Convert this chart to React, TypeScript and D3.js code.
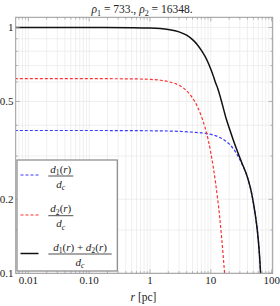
import * as d3 from "d3";

// d1(r)/dc  (blue, dashed)
const R1 = [0.006, 0.1, 1, 3, 5, 8, 11, 14, 17, 20, 23, 26, 30, 34, 38, 42, 46, 50, 54, 58, 62, 66, 70];
const D1 = [0.381, 0.381, 0.380, 0.378, 0.375, 0.371, 0.365, 0.357, 0.347, 0.336, 0.323, 0.309, 0.290, 0.272, 0.255, 0.236, 0.216, 0.194, 0.172, 0.150, 0.126, 0.098, 0.068];

// d2(r)/dc  (red, dashed)
const R2 = [0.006, 0.1, 0.5, 1, 1.5, 2, 3, 4, 5, 6, 7, 8, 9, 10, 11, 12, 13, 14, 15, 16, 17, 18];
const D2 = [0.619, 0.619, 0.618, 0.615, 0.610, 0.602, 0.582, 0.553, 0.517, 0.477, 0.435, 0.393, 0.351, 0.309, 0.269, 0.232, 0.199, 0.169, 0.141, 0.117, 0.097, 0.080];

// (d1+d2)/dc  (black)
const RT = [0.006, 0.1, 0.5, 1, 2, 3, 4, 5, 6, 7, 8, 9, 10, 11, 12, 13, 14, 15, 16, 18, 20, 23, 26, 30, 34, 38, 42, 46, 50, 54, 58, 62, 66, 70];
const DT = [1.0, 1.0, 0.998, 0.995, 0.981, 0.96, 0.93, 0.892, 0.851, 0.807, 0.764, 0.72, 0.676, 0.634, 0.594, 0.565, 0.532, 0.5, 0.471, 0.423, 0.391, 0.353, 0.324, 0.295, 0.273, 0.255, 0.236, 0.216, 0.194, 0.172, 0.15, 0.126, 0.098, 0.068];

const xTicks = [0.01, 0.1, 1, 10, 100];
const xTickLabels = ["0.01", "0.10", "1", "10", "100"];
const yTicks = [0.1, 0.2, 0.5, 1];
const yTickLabels = ["0.1", "0.2", "0.5", "1"];
const yMinor = [0.15, 0.3, 0.4, 0.6, 0.7, 0.8, 0.9];

const W = 280;
const H = 306;
const left = 15.7, right = 272.7, top = 17.3, bottom = 273.3;
const FONT = "'Liberation Serif', 'DejaVu Serif', serif";

const x = d3.scaleLog().domain([0.0062, 104]).range([left, right]);
const y = d3.scaleLog().domain([0.1, 1.1]).range([bottom, top]);

const xGrid: number[] = [];
for (let e = -3; e <= 2; e++) for (let m = 1; m <= 9; m++) {
  const v = m * Math.pow(10, e);
  if (v >= 0.0062 && v <= 104) xGrid.push(v);
}

const line = d3.line<[number, number]>()
  .x(d => x(d[0]))
  .y(d => y(d[1]))
  .curve(d3.curveMonotoneX);

const zip = (a: number[], b: number[]) => a.map((v, i) => [v, b[i]] as [number, number]);

const Sub = ({ t }: { t: string }) => (
  <tspan fontSize="0.7em" dy="3" fontStyle="normal">{t}</tspan>
);

const Frac = ({ cx, barY, w, num }: { cx: number; barY: number; w: number; num: "d1" | "d2" | "sum" }) => {
  const dTerm = (i: string) => (
    <>
      <tspan fontStyle="italic">d</tspan>
      <tspan fontSize="0.7em" dy="2.5">{i}</tspan>
      <tspan dy="-2.5">(</tspan>
      <tspan fontStyle="italic">r</tspan>
      <tspan>)</tspan>
    </>
  );
  return (
    <g fontFamily={FONT} fontSize={11} fill="#222">
      <text x={cx} y={barY - 3.5} textAnchor="middle">
        {num === "d1" && dTerm("1")}
        {num === "d2" && dTerm("2")}
        {num === "sum" && (<>{dTerm("1")}<tspan> + </tspan>{dTerm("2")}</>)}
      </text>
      <line x1={cx - w / 2} x2={cx + w / 2} y1={barY} y2={barY} stroke="#222" strokeWidth={0.8} />
      <text x={cx} y={barY + 11.5} textAnchor="middle">
        <tspan fontStyle="italic">d</tspan>
        <tspan fontSize="0.7em" dy="2.5" fontStyle="italic">c</tspan>
      </text>
    </g>
  );
};

export default function App() {
  return (
    <svg width={W} height={H} style={{ position: "absolute", left: 0, top: 0, background: "#fff" }}>
      <defs>
        <clipPath id="plot">
          <rect x={left} y={top} width={right - left} height={bottom - top} />
        </clipPath>
      </defs>

      {/* title */}
      <text x={142} y={13} textAnchor="middle" fontFamily={FONT} fontSize={11.5} fill="#222">
        <tspan fontStyle="italic">ρ</tspan><Sub t="1" /><tspan dy="-3"> = 733., </tspan>
        <tspan fontStyle="italic">ρ</tspan><Sub t="2" /><tspan dy="-3"> = 16348.</tspan>
      </text>

      {/* grid */}
      <g stroke="#ebebeb" strokeWidth={0.8}>
        {xGrid.map(v => <line key={"gx" + v} x1={x(v)} x2={x(v)} y1={top} y2={bottom} />)}
        {[...yTicks, ...yMinor].map(v => <line key={"gy" + v} x1={left} x2={right} y1={y(v)} y2={y(v)} />)}
      </g>

      {/* curves */}
      <g clipPath="url(#plot)" fill="none">
        <path d={line(zip(R1, D1)) || ""} stroke="#3a3aff" strokeWidth={1.2} strokeDasharray="3,2" />
        <path d={line(zip(R2, D2)) || ""} stroke="#ff3030" strokeWidth={1.2} strokeDasharray="3,2" />
        <path d={line(zip(RT, DT)) || ""} stroke="#111" strokeWidth={1.5} />
      </g>

      {/* frame ticks */}
      <g stroke="#999" strokeWidth={0.7}>
        {xGrid.map(v => {
          const len = xTicks.includes(v) ? 4 : 2.2;
          return (
            <g key={"tx" + v}>
              <line x1={x(v)} x2={x(v)} y1={bottom} y2={bottom - len} />
              <line x1={x(v)} x2={x(v)} y1={top} y2={top + len} />
            </g>
          );
        })}
        {[...yTicks, ...yMinor].map(v => {
          const len = yTicks.includes(v) ? 4 : 2.2;
          return (
            <g key={"ty" + v}>
              <line x1={left} x2={left + len} y1={y(v)} y2={y(v)} />
              <line x1={right} x2={right - len} y1={y(v)} y2={y(v)} />
            </g>
          );
        })}
      </g>
      <rect x={left} y={top} width={right - left} height={bottom - top} fill="none" stroke="#999" strokeWidth={1} />

      {/* tick labels */}
      <g fontFamily={FONT} fontSize={11} fill="#222">
        {xTicks.map((v, i) => (
          <text key={"lx" + v} x={x(v)} y={284} textAnchor="middle">{xTickLabels[i]}</text>
        ))}
        {yTicks.map((v, i) => (
          <text key={"ly" + v} x={13.5} y={y(v) + 3.8} textAnchor="end">{yTickLabels[i]}</text>
        ))}
      </g>

      {/* axis label */}
      <text x={143.5} y={301} textAnchor="middle" fontFamily={FONT} fontSize={11.5} fill="#222">
        <tspan fontStyle="italic">r</tspan><tspan> [pc]</tspan>
      </text>

      {/* legend */}
      <rect x={17} y={160} width={100.3} height={111} fill="#fff" stroke="#888" strokeWidth={1.2} />
      <line x1={20.5} x2={38.5} y1={175} y2={175} stroke="#3a3aff" strokeWidth={1.2} strokeDasharray="3,2" />
      <line x1={20.5} x2={38.5} y1={215} y2={215} stroke="#ff3030" strokeWidth={1.2} strokeDasharray="3,2" />
      <line x1={20.5} x2={38.5} y1={253.5} y2={253.5} stroke="#111" strokeWidth={1.5} />
      <Frac cx={60.8} barY={176} w={25} num="d1" />
      <Frac cx={60.8} barY={215.7} w={25} num="d2" />
      <Frac cx={80} barY={254} w={63.4} num="sum" />
    </svg>
  );
}
